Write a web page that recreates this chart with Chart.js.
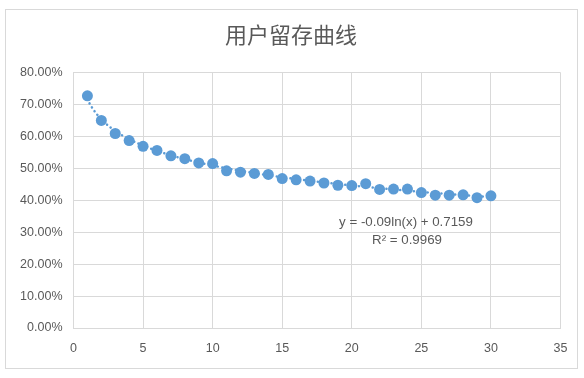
<!DOCTYPE html>
<html>
<head>
<meta charset="utf-8">
<script src="https://cdn.jsdelivr.net/npm/chart.js@4/dist/chart.umd.min.js"></script>
<style>
  html, body { margin: 0; padding: 0; background: #fff; }
  #wrap { width: 584px; height: 378px; }
</style>
</head>
<body>
<div id="wrap"><canvas id="retentionChart" width="584" height="378"></canvas></div>
<script>
// day number and retention rate
const days = [1, 2, 3, 4, 5, 6, 7, 8, 9, 10, 11, 12, 13, 14, 15,
              16, 17, 18, 19, 20, 21, 22, 23, 24, 25, 26, 27, 28, 29, 30];
const retention = [0.727, 0.650, 0.609, 0.587, 0.569, 0.556, 0.539, 0.530, 0.517, 0.515,
                   0.492, 0.488, 0.484, 0.481, 0.468, 0.464, 0.460, 0.454, 0.447, 0.446,
                   0.452, 0.434, 0.435, 0.435, 0.424, 0.416, 0.416, 0.417, 0.408, 0.414];
const xTicks = [0, 5, 10, 15, 20, 25, 30, 35];
const yTicks = [0, 0.1, 0.2, 0.3, 0.4, 0.5, 0.6, 0.7, 0.8];

// log trendline as printed on the chart
const trendA = -0.09;
const trendB = 0.7159;
const trendR2 = 0.9969;

const chartTitle = '用户留存曲线';
const blue = '#5b9bd5';
const textGrey = '#595959';
const gridGrey = '#d9d9d9';
const numFont = '"Liberation Sans", Arial, sans-serif';

document.addEventListener("DOMContentLoaded", function () {

    const points = days.map((d, i) => ({ x: d, y: retention[i] }));

    // frame, title, trendline and its label
    const excelBits = {
        id: 'excelBits',
        beforeDraw(chart) {
            const c = chart.ctx;
            c.save();
            c.fillStyle = '#fff';
            c.fillRect(0, 0, chart.width, chart.height);
            c.strokeStyle = gridGrey;
            c.lineWidth = 1;
            c.strokeRect(5.5, 9.5, 572, 359);
            c.fillStyle = textGrey;
            c.font = '22px "Noto Sans CJK SC", sans-serif';
            c.textAlign = 'center';
            c.textBaseline = 'middle';
            c.fillText(chartTitle, 291, 35);
            c.restore();
        },
        beforeDatasetsDraw(chart) {
            const c = chart.ctx;
            const xs = chart.scales.x, ys = chart.scales.y;
            const first = days[0], last = days[days.length - 1];
            c.save();
            c.strokeStyle = blue;
            c.lineWidth = 2.5;
            c.lineCap = 'round';
            c.setLineDash([0.1, 4.5]);
            c.beginPath();
            for (let t = first; t <= last + 0.001; t += 0.1) {
                const px = xs.getPixelForValue(t);
                const py = ys.getPixelForValue(trendA * Math.log(t) + trendB);
                if (t === first) c.moveTo(px, py); else c.lineTo(px, py);
            }
            c.stroke();
            c.restore();
        },
        afterDraw(chart) {
            const c = chart.ctx;
            c.save();
            c.fillStyle = textGrey;
            c.font = '13.3px ' + numFont;
            c.textAlign = 'center';
            c.textBaseline = 'middle';
            c.fillText('y = ' + trendA + 'ln(x) + ' + trendB, 406, 222);
            c.fillText('R² = ' + trendR2, 407, 240);
            c.restore();
        }
    };

    const ctx = document.getElementById('retentionChart').getContext('2d');

    const retentionChart = new Chart(ctx, {
        type: 'scatter',
        data: {
            datasets: [{
                label: 'retention',
                data: points,
                pointRadius: 5.5,
                pointHoverRadius: 5.5,
                pointBackgroundColor: blue,
                pointBorderColor: blue,
                pointBorderWidth: 0,
                showLine: false
            }]
        },
        options: {
            responsive: false,
            animation: false,
            layout: {
                padding: { left: 0, right: 23.5, top: 72.5, bottom: 0 }
            },
            plugins: {
                legend: { display: false },
                title: { display: false },
                tooltip: { enabled: false }
            },
            scales: {
                x: {
                    type: 'linear',
                    min: 0,
                    max: 35,
                    afterBuildTicks: (s) => { s.ticks = xTicks.map(v => ({ value: v })); },
                    grid: { color: gridGrey, drawTicks: false },
                    border: { color: gridGrey },
                    ticks: {
                        color: textGrey,
                        font: { family: numFont, size: 12.5 },
                        padding: 13,
                        maxRotation: 0
                    },
                    afterFit: (s) => { s.height = 50; }
                },
                y: {
                    min: 0,
                    max: 0.8,
                    afterBuildTicks: (s) => { s.ticks = yTicks.map(v => ({ value: v })); },
                    grid: { color: gridGrey, drawTicks: false },
                    border: { color: gridGrey },
                    ticks: {
                        color: textGrey,
                        font: { family: numFont, size: 12.5 },
                        padding: 11,
                        callback: (v) => (v * 100).toFixed(2) + '%'
                    },
                    afterFit: (s) => { s.width = 73.5; }
                }
            }
        },
        plugins: [excelBits]
    });

});
</script>
</body>
</html>
